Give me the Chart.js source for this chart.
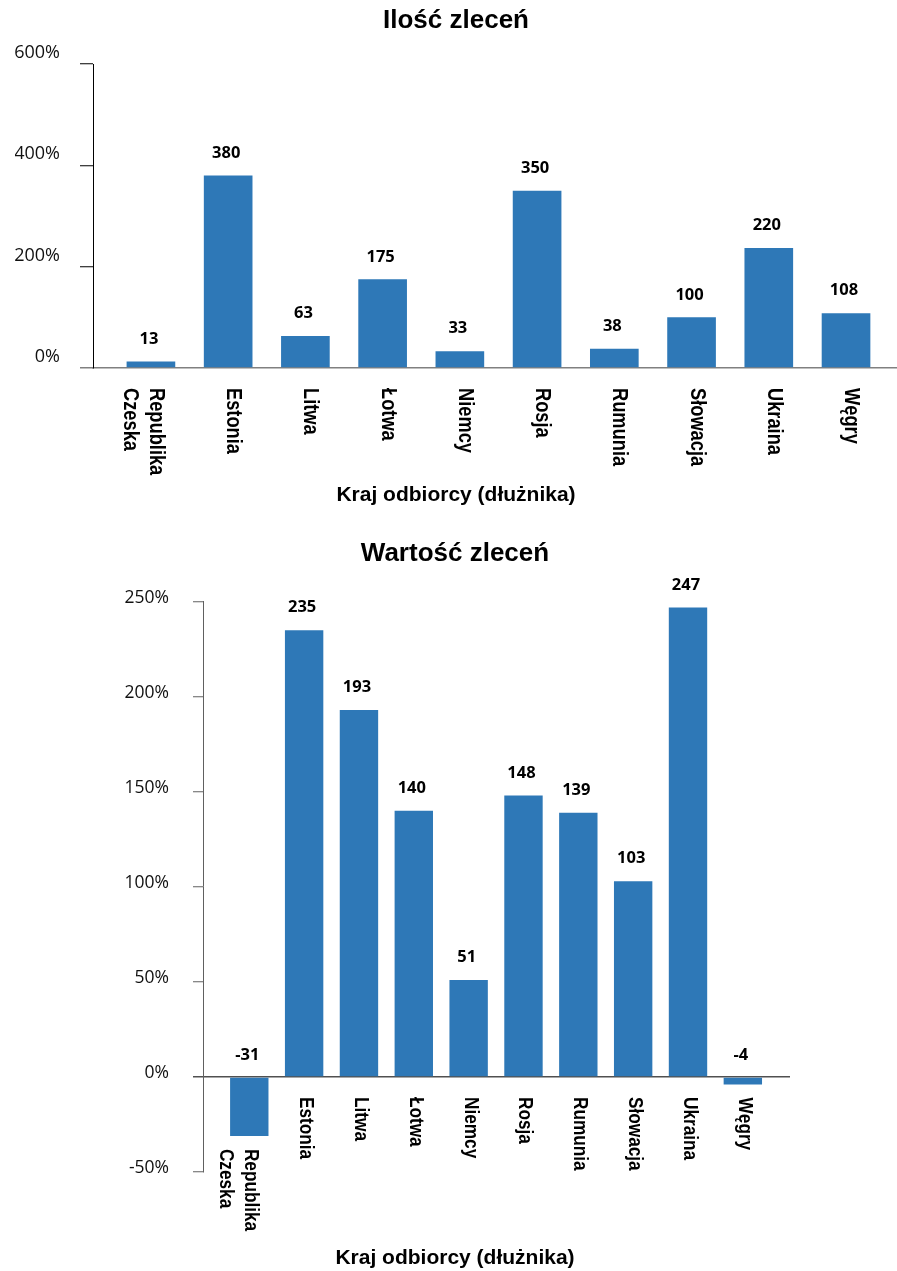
<!DOCTYPE html>
<html lang="pl">
<head>
<meta charset="UTF-8">
<title>Ilość i wartość zleceń</title>
<script src="https://cdn.jsdelivr.net/npm/chart.js"></script>
<style>
    body { margin: 0; background: #fff; }
    .box { position: absolute; left: 0; width: 897px; }
</style>
</head>
<body>
<div class="box" style="top:0;height:530px"><canvas id="ilosc" width="897" height="530"></canvas></div>
<div class="box" style="top:530px;height:741px"><canvas id="wartosc" width="897" height="741"></canvas></div>

<script>
// dane
const kraje = [['Republika', 'Czeska'], 'Estonia', 'Litwa', 'Łotwa', 'Niemcy', 'Rosja', 'Rumunia', 'Słowacja', 'Ukraina', 'Węgry'];
const iloscSlupki = [13, 380, 63, 175, 33, 350, 38, 100, 237, 108];
const iloscEtykiety = [13, 380, 63, 175, 33, 350, 38, 100, 220, 108];
const wartoscSlupki = [-31, 235, 193, 140, 51, 148, 139, 103, 247, -4];
const iloscTicks = [0, 200, 400, 600];
const wartoscTicks = [-50, 0, 50, 100, 150, 200, 250];

const niebieski = '#2e78b7';

// etykiety nad slupkami i obrocone nazwy krajow pod osia
const barText = {
    id: 'barText',
    afterDatasetsDraw(chart, args, o) {
        const ctx = chart.ctx;
        const zero = chart.scales.y.getPixelForValue(0);
        ctx.save();
        chart.getDatasetMeta(0).data.forEach((bar, i) => {
            const top = Math.min(bar.y, bar.base);
            const bottom = Math.max(bar.y, bar.base);
            ctx.font = 'bold 16.5px "Open Sans"';
            ctx.fillStyle = '#000';
            ctx.textAlign = 'center';
            ctx.textBaseline = 'middle';
            ctx.fillText(String(o.values[i]), bar.x - 2, top - 22.5);

            const lines = [].concat(kraje[i]);
            ctx.save();
            ctx.translate(bar.x + o.shift, Math.max(zero + 20, bottom + 13));
            ctx.rotate(Math.PI / 2);
            ctx.scale(o.narrow, 1);
            ctx.font = 'bold ' + o.size + 'px "Liberation Sans", Arial';
            ctx.textAlign = 'left';
            ctx.textBaseline = 'alphabetic';
            lines.forEach((t, k) => ctx.fillText(t, 0, k * 25.5));
            ctx.restore();
        });
        ctx.restore();
    }
};

function makeChart(id, c) {
    return new Chart(document.getElementById(id), {
        type: 'bar',
        data: {
            datasets: [{
                data: c.values.map((v, i) => ({ x: i, y: v })),
                backgroundColor: niebieski,
                borderWidth: 0,
                categoryPercentage: 1,
                barPercentage: c.barPct
            }]
        },
        plugins: [barText],
        options: {
            responsive: false,
            animation: false,
            layout: { padding: c.padding },
            plugins: {
                legend: { display: false },
                tooltip: { enabled: false },
                title: {
                    display: true,
                    text: c.title,
                    color: '#000',
                    font: { family: '"Liberation Sans", Arial', size: 26, weight: 'bold' },
                    padding: c.titlePad
                },
                subtitle: {
                    display: true,
                    position: 'bottom',
                    text: 'Kraj odbiorcy (dłużnika)',
                    color: '#000',
                    font: { family: '"Liberation Sans", Arial', size: 21, weight: 'bold' },
                    padding: c.subPad
                },
                barText: { values: c.labels, shift: c.shift, size: c.nameSize, narrow: c.narrow }
            },
            scales: {
                x: {
                    type: 'linear',
                    min: c.xMin,
                    max: c.xMax,
                    offset: false,
                    ticks: { display: false },
                    grid: {
                        display: c.xTick,
                        drawOnChartArea: false,
                        tickLength: 10,
                        color: '#000'
                    },
                    border: { display: c.xBorder, color: '#808080', width: 1.5 },
                    afterBuildTicks: s => { s.ticks = [{ value: s.min }]; },
                    afterFit: s => { s.height = c.xHeight; }
                },
                y: {
                    min: c.ticks[0],
                    max: c.ticks[c.ticks.length - 1],
                    ticks: {
                        stepSize: c.ticks[1] - c.ticks[0],
                        callback: v => v + '%',
                        color: '#111',
                        font: { family: '"Open Sans"', size: c.tickSize },
                        padding: c.tickPad,
                        labelOffset: c.labelOffset
                    },
                    grid: {
                        drawOnChartArea: c.zeroLine,
                        color: ctx => ctx.tick.value === 0 ? '#505050' : 'rgba(0,0,0,0)',
                        lineWidth: 1.5,
                        tickLength: c.tickLen,
                        tickWidth: ctx => ctx.tick.value === 0 ? 1.5 : 1,
                        tickColor: ctx => ctx.tick.value === 0 ? c.zeroColor : c.axisColor
                    },
                    border: { color: c.axisColor, width: 1 },
                    afterFit: s => { s.width = c.yWidth; }
                }
            }
        }
    });
}

makeChart('ilosc', {
    title: 'Ilość zleceń',
    values: iloscSlupki,
    labels: iloscEtykiety,
    ticks: iloscTicks,
    barPct: 0.63,
    padding: { left: 15, right: 0, top: 0, bottom: 0 },
    titlePad: { top: 5, bottom: 27.8 },
    subPad: { top: 0, bottom: 21.9 },
    xMin: -0.75, xMax: 9.66,
    xTick: true, xBorder: true, xHeight: 114.9,
    yWidth: 78, tickLen: 13, tickPad: 20, tickSize: 18, labelOffset: -11,
    zeroLine: false, zeroColor: '#808080', axisColor: '#000',
    shift: -1, nameSize: 22, narrow: 0.83
});

makeChart('wartosc', {
    title: 'Wartość zleceń',
    values: wartoscSlupki,
    labels: wartoscSlupki,
    ticks: wartoscTicks,
    barPct: 0.70,
    padding: { left: 120, right: 107, top: 0, bottom: 0 },
    titlePad: { top: 8.4, bottom: 32.1 },
    subPad: { top: 0, bottom: 0 },
    xMin: -0.844, xMax: 9.86,
    xTick: false, xBorder: false, xHeight: 73.8,
    yWidth: 83, tickLen: 10, tickPad: 24, tickSize: 17.5, labelOffset: -4,
    zeroLine: true, zeroColor: '#505050', axisColor: '#606060',
    shift: -4, nameSize: 21, narrow: 0.82
});
</script>
</body>
</html>
